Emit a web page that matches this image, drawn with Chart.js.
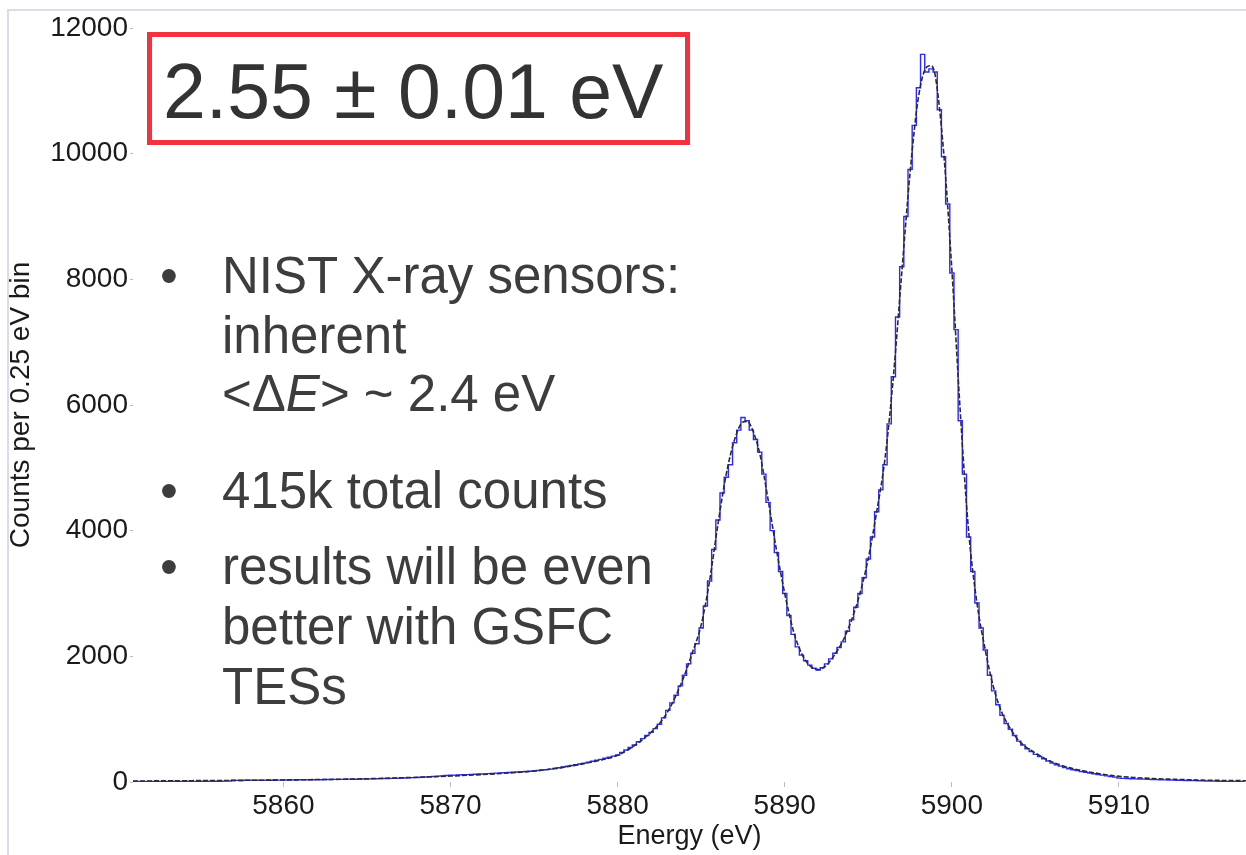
<!DOCTYPE html>
<html><head><meta charset="utf-8">
<script src="https://cdn.jsdelivr.net/npm/chart.js@4.4.1/dist/chart.umd.min.js"></script>
<style>
html,body{margin:0;padding:0;background:#fff;}
#wrap{position:relative;width:1246px;height:855px;overflow:hidden;font-family:"Liberation Sans",Arial,sans-serif;}
#c{position:absolute;left:0;top:0;}
.frame{position:absolute;left:7px;top:9px;width:1250px;height:860px;border-left:2px solid #dcdce8;border-top:2px solid #dcdce8;}
.box{position:absolute;left:147px;top:32px;width:543px;height:113px;box-sizing:border-box;border:5px solid #f2333e;}
.big{position:absolute;left:163px;top:53px;font-size:77px;line-height:77px;color:#333;white-space:nowrap;}
.ln{position:absolute;left:222px;font-size:51px;line-height:51px;color:#3d3d3d;white-space:nowrap;}
.bul{position:absolute;left:160px;font-size:51px;line-height:51px;color:#3d3d3d;}
</style></head>
<body>
<div id="wrap">
<div class="frame"></div>
<canvas id="c" width="1246" height="855"></canvas>
<div class="box"></div>
<div class="big">2.55 ± 0.01 eV</div>
<div class="bul" style="top:250px">•</div>
<div class="ln" style="top:250px">NIST X-ray sensors:</div>
<div class="ln" style="top:310px">inherent</div>
<div class="ln" style="top:368px">&lt;Δ<i>E</i>&gt; ~ 2.4 eV</div>
<div class="bul" style="top:465px">•</div>
<div class="ln" style="top:465px">415k total counts</div>
<div class="bul" style="top:541px">•</div>
<div class="ln" style="top:541px">results will be even</div>
<div class="ln" style="top:601px">better with GSFC</div>
<div class="ln" style="top:661px">TESs</div>
</div>
<script>
const FF = '"Liberation Sans", Arial, sans-serif';
// histogram: 0.25 eV bins starting at 5851.00 eV
const binStart = 5851.0;
const binWidth = 0.25;
const counts = [
 8,7,9,8, 9,8,10,9, 10,9,11,10, 10,11,9,10, 11,10,12,11, 12,13,14,16,
 24,26,25,27, 28,27,29,28, 30,29,31,30, 32,33,34,33, 35,36,35,37, 38,37,39,40,
 41,42,41,43, 45,44,46,47, 48,50,51,53, 55,56,58,60, 62,64,66,69, 72,76,80,84,
 88,93,98,103, 108,110,113,115, 118,121,124,127, 130,134,137,141, 145,149,152,156,
 160,164,167,171, 175,182,190,197, 205,216,227,238, 250,262,275,287, 300,315,330,345,
 360,378,395,412, 430,470,510,550, 590,640,690,740, 790,850,920,1020, 1140,1260,1380,1530,
 1700,1880,2050,2200, 2450,2800,3200,3700, 4170,4600,4850,5050, 5400,5600,5800,5750,
 5600,5450,5250,4900, 4450,4000,3650,3350, 3000,2650,2350,2150, 2020,1930,1860,1810,
 1780,1820,1880,1960, 2050,2140,2230,2400, 2580,2780,3000,3250, 3550,3900,4300,4650,
 5050,5700,6450,7400, 8200,9000,9750,10450, 11050,11580,11300,11350, 11300,10700,9950,9200,
 8100,7200,5750,4900, 3900,3350,2850,2450, 2100,1700,1450,1230, 1060,930,840,740,
 650,590,530,485, 440,405,370,335, 300,275,252,230, 210,196,182,168, 155,143,132,120,
 110,98,88,78, 62,58,55,52, 50,47,45,42, 40,38,36,34, 32,30,29,27, 25,23,22,20,
 18,16,15,14, 12,11,10,9, 8,7,5
];
// fitted line model
const fitEnergy = [5851,5855,5860,5865,5870,5873,5875,5877,5879,5880,5881,5882,5882.5,5883,5883.5,5884,5884.5,5885,5885.5,5886,5886.5,5887,5887.5,5887.75,5888,5888.5,5889,5889.5,5890,5890.5,5891,5891.5,5892,5892.5,5893,5893.5,5894,5894.5,5895,5895.5,5896,5896.5,5897,5897.5,5898,5898.5,5898.75,5899,5899.5,5900,5900.5,5901,5901.5,5902,5902.5,5903,5903.5,5904,5905,5906,5907,5908,5909,5910,5911,5912,5913,5915,5917.6];
const fitCounts = [15,22,32,52,95,135,175,245,350,425,580,790,930,1120,1380,1700,2080,2500,3200,4100,4900,5450,5730,5740,5650,5230,4500,3700,3000,2420,2050,1850,1790,1860,2030,2260,2580,3000,3560,4300,5150,6450,8100,9700,10900,11380,11400,11250,10050,8150,5900,4000,2850,2100,1500,1100,850,660,460,320,230,170,125,90,70,55,45,30,20];
const xTickValues = [5860,5870,5880,5890,5900,5910];
const yTickValues = [0,2000,4000,6000,8000,10000,12000];

const dataPts = counts.map((c,i)=>({x: binStart + i*binWidth, y: c}));
const fitPts = fitEnergy.map((e,i)=>({x: e, y: fitCounts[i]}));

new Chart(document.getElementById('c'), {
  type: 'line',
  data: { datasets: [
    { label:'fit', data: fitPts, borderColor:'#2b2b2b', borderWidth:1.6, borderDash:[5,2],
      pointRadius:0, cubicInterpolationMode:'monotone', fill:false },
    { label:'data', data: dataPts, borderColor:'#2a2aff', borderWidth:1.4, stepped:'middle',
      pointRadius:0, fill:false }
  ]},
  options: {
    responsive:false, animation:false, events:[],
    layout:{padding:{top:28,right:0,left:0,bottom:0}},
    plugins:{legend:{display:false}, tooltip:{enabled:false}},
    scales:{
      x:{type:'linear', min:5851, max:5917.6,
        afterBuildTicks:s=>{ s.ticks = xTickValues.map(v=>({value:v})); },
        afterFit:s=>{ s.height = 73; },
        ticks:{font:{size:28,family:FF}, color:'#1a1a1a', padding:2, maxRotation:0, autoSkip:false,
               callback:v=>String(v)},
        grid:{drawOnChartArea:false, drawTicks:true, tickLength:5, color:'#bbb'},
        border:{display:false},
        title:{display:true, text:'Energy (eV)', font:{size:27,family:FF}, color:'#1a1a1a', padding:{top:0,bottom:2}}
      },
      y:{min:0, max:12000,
        afterBuildTicks:s=>{ s.ticks = yTickValues.map(v=>({value:v})); },
        afterFit:s=>{ s.width = 133; },
        ticks:{font:{size:28,family:FF}, color:'#1a1a1a', padding:2, callback:v=>String(v)},
        grid:{drawOnChartArea:false, drawTicks:true, tickLength:3, color:'#bbb'},
        border:{display:false},
        title:{display:true, text:'Counts per 0.25 eV bin', font:{size:28,family:FF}, color:'#1a1a1a', padding:{top:4,bottom:0}}
      }
    }
  }
});
</script>
</body></html>
